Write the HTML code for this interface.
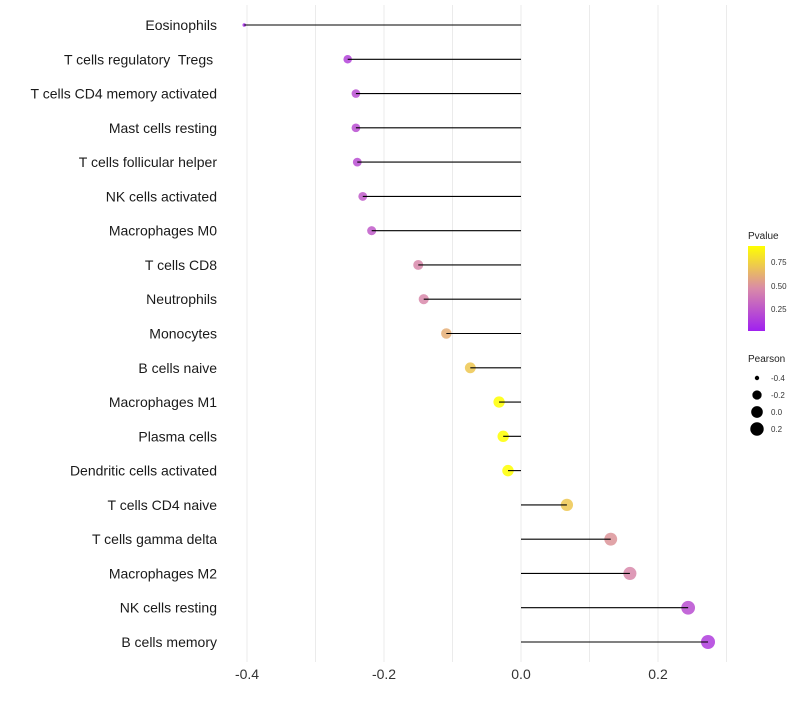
<!DOCTYPE html>
<html><head><meta charset="utf-8"><style>
body{margin:0;background:#fff;}
svg text{font-family:"Liberation Sans",sans-serif;white-space:pre;}
</style></head><body>
<svg id="chart" width="800" height="700" xmlns="http://www.w3.org/2000/svg">
<defs><linearGradient id="pg" x1="0" y1="1" x2="0" y2="0">
<stop offset="0" stop-color="#a020f0"/><stop offset="0.5" stop-color="#d98aa8"/><stop offset="1" stop-color="#ffff00"/></linearGradient></defs>
<g id="grid"></g>
<g id="marks"></g>
<g id="labels"></g>
<g id="xticks"></g>
<g>
<text x="748" y="239" font-size="10" fill="#222">Pvalue</text>
<rect x="748" y="246" width="17" height="85" fill="url(#pg)"/>
<text x="771" y="265" font-size="8" fill="#333">0.75</text>
<text x="771" y="289" font-size="8" fill="#333">0.50</text>
<text x="771" y="312" font-size="8" fill="#333">0.25</text>
</g>
<g id="sizeleg">
<text x="748" y="362" font-size="10" fill="#222">Pearson</text>
</g>
</svg>
<script>
const categories=["Eosinophils","T cells regulatory  Tregs ","T cells CD4 memory activated","Mast cells resting","T cells follicular helper","NK cells activated","Macrophages M0","T cells CD8","Neutrophils","Monocytes","B cells naive","Macrophages M1","Plasma cells","Dendritic cells activated","T cells CD4 naive","T cells gamma delta","Macrophages M2","NK cells resting","B cells memory"];
const pearson=[-0.404,-0.253,-0.241,-0.241,-0.239,-0.231,-0.218,-0.150,-0.142,-0.109,-0.074,-0.032,-0.026,-0.019,0.067,0.131,0.159,0.244,0.273];
const pvalue=[0.05,0.15,0.2,0.2,0.2,0.25,0.25,0.45,0.45,0.6,0.7,0.92,0.92,0.95,0.7,0.5,0.45,0.2,0.12];
const xTicks=[-0.4,-0.2,0.0,0.2];
const gridVals=[-0.4,-0.3,-0.2,-0.1,0,0.1,0.2,0.3];
const sizeLegend=[-0.4,-0.2,0.0,0.2];
const NS="http://www.w3.org/2000/svg";
const x=v=>521+v*685;
const y=i=>25+i*(642-25)/18;
const r=v=>1.8+5.2*Math.sqrt(Math.max(0,(v+0.404)/0.677));
function col(p){const t=Math.max(0,Math.min(1,p/0.92));const a=[160,32,240],m=[217,138,168],b=[255,255,0];let c;
if(t<0.5){const s=t/0.5;c=a.map((v,k)=>v+(m[k]-v)*s);}else{const s=(t-0.5)/0.5;c=m.map((v,k)=>v+(b[k]-v)*s);}
return `rgb(${c.map(Math.round).join(',')})`;}
function mk(tag,at,parent){const e=document.createElementNS(NS,tag);for(const k in at)e.setAttribute(k,at[k]);parent.appendChild(e);return e;}
const G=document.getElementById('grid'),M=document.getElementById('marks'),L=document.getElementById('labels'),X=document.getElementById('xticks'),S=document.getElementById('sizeleg');
gridVals.forEach(v=>{const e=mk('line',{x1:x(v),x2:x(v),y1:5,y2:662,stroke:'#ebebeb','stroke-width':1},G);

});
xTicks.forEach(v=>{const t=mk('text',{x:x(v),y:679,'font-size':14,'text-anchor':'middle',fill:'#333'},X);t.textContent=v.toFixed(1);

});
categories.forEach((c,i)=>{
const t=mk('text',{x:217,y:y(i)+5,'font-size':14,'text-anchor':'end',fill:'#1a1a1a'},L);t.textContent=c;


const d=mk('circle',{cx:x(pearson[i]),cy:y(i),r:r(pearson[i]),fill:col(pvalue[i]),'fill-opacity':0.85},M);


const l=mk('line',{x1:x(0),x2:x(pearson[i]),y1:y(i),y2:y(i),stroke:'#000','stroke-width':1.1},M);


});
sizeLegend.forEach((v,i)=>{const cy=378+i*17;
const c=mk('circle',{cx:757,cy:cy,r:r(v),fill:'#000'},S);


const t=mk('text',{x:771,y:cy+3,'font-size':8,fill:'#333'},S);t.textContent=v.toFixed(1);

});
</script>
</body></html>
